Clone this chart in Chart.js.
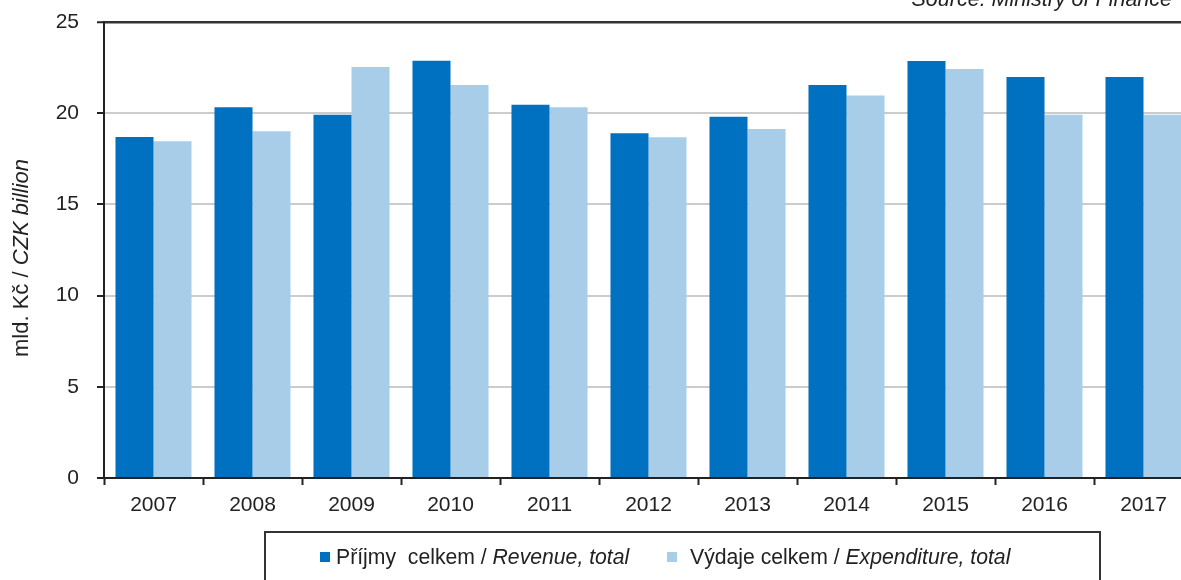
<!DOCTYPE html>
<html>
<head>
<meta charset="utf-8">
<script src="https://cdn.jsdelivr.net/npm/chart.js@4/dist/chart.umd.min.js"></script>
<style>
  html, body { margin: 0; padding: 0; background: #fff; overflow: hidden; }
  #wrap { position: relative; width: 1200px; height: 580px; }
</style>
</head>
<body>
<div id="wrap"><canvas id="budget"></canvas></div>
<script>
// Data
const years = ['2007', '2008', '2009', '2010', '2011', '2012', '2013', '2014', '2015', '2016', '2017'];
const revenue = [18.70, 20.33, 19.91, 22.87, 20.46, 18.90, 19.80, 21.54, 22.86, 21.98, 21.98];
const expenditure = [18.46, 19.01, 22.53, 21.55, 20.33, 18.68, 19.14, 20.97, 22.42, 19.92, 19.92];
const yTicks = [0, 5, 10, 15, 20, 25];

const DARK = '#0070c0';
const LIGHT = '#a7cde8';
const TEXT = '#222';
const FONT = "'Liberation Sans', Arial, sans-serif";

// draw a line of text made of regular / italic pieces
function drawRuns(ctx, runs, x, y, size) {
    let cx = x;
    runs.forEach(r => {
        ctx.font = (r.italic ? 'italic ' : '') + size + 'px ' + FONT;
        ctx.fillText(r.text, cx, y);
        cx += ctx.measureText(r.text).width;
    });
}

function runsWidth(ctx, runs, size) {
    let w = 0;
    runs.forEach(r => {
        ctx.font = (r.italic ? 'italic ' : '') + size + 'px ' + FONT;
        w += ctx.measureText(r.text).width;
    });
    return w;
}

// Axis title, source note and legend box (mixed italic text)
const extras = {
    id: 'extras',
    afterDraw(chart) {
        const ctx = chart.ctx;
        ctx.save();
        ctx.fillStyle = TEXT;
        ctx.textBaseline = 'alphabetic';

        // source note, cut at the top edge
        const src = [{ text: 'Source: Ministry of Finance', italic: true }];
        drawRuns(ctx, src, 1172 - runsWidth(ctx, src, 21.5), 6, 21.5);

        // y axis title
        const title = [{ text: 'mld. Kč / ', italic: false }, { text: 'CZK billion', italic: true }];
        ctx.translate(28, 258);
        ctx.rotate(-Math.PI / 2);
        drawRuns(ctx, title, -runsWidth(ctx, title, 22) / 2, 0, 22);
        ctx.restore();

        // legend
        ctx.save();
        ctx.strokeStyle = '#333';
        ctx.lineWidth = 2;
        ctx.strokeRect(265, 532, 835, 80);
        const ds = chart.data.datasets;
        const items = [
            { x: 320, gap: 16, color: ds[0].backgroundColor, runs: [{ text: 'Příjmy  celkem / ', italic: false }, { text: 'Revenue, total', italic: true }] },
            { x: 667, gap: 23, color: ds[1].backgroundColor, runs: [{ text: 'Výdaje celkem / ', italic: false }, { text: 'Expenditure, total', italic: true }] }
        ];
        items.forEach(it => {
            ctx.fillStyle = it.color;
            ctx.fillRect(it.x, 552, 10, 10);
            ctx.fillStyle = TEXT;
            drawRuns(ctx, it.runs, it.x + it.gap, 564, 21.2);
        });
        ctx.restore();
    }
};

new Chart(document.getElementById('budget'), {
    type: 'bar',
    data: {
        labels: years,
        datasets: [
            { label: 'Příjmy celkem / Revenue, total', data: revenue, backgroundColor: DARK },
            { label: 'Výdaje celkem / Expenditure, total', data: expenditure, backgroundColor: LIGHT }
        ]
    },
    options: {
        responsive: true,
        maintainAspectRatio: false,
        animation: false,
        datasets: {
            bar: { categoryPercentage: 0.768, barPercentage: 1.0, borderWidth: 0 }
        },
        layout: { padding: { top: 22, right: 7, left: 0, bottom: 0 } },
        plugins: {
            legend: { display: false },
            tooltip: { enabled: false }
        },
        scales: {
            x: {
                offset: true,
                grid: { offset: true, drawOnChartArea: false, tickLength: 7, tickColor: '#222', tickWidth: 2 },
                border: { color: '#222', width: 2 },
                ticks: { color: TEXT, font: { family: FONT, size: 21 }, padding: 8, maxRotation: 0 },
                afterFit: s => { s.height = 102; }
            },
            y: {
                min: 0,
                max: 25,
                afterBuildTicks: s => { s.ticks = yTicks.map(v => ({ value: v })); },
                grid: {
                    color: c => c.tick && c.tick.value === 25 ? '#333' : '#cccccc',
                    lineWidth: c => c.tick && c.tick.value === 25 ? 2.5 : 2,
                    tickColor: '#222',
                    tickWidth: 2,
                    tickLength: 7
                },
                border: { color: '#222', width: 2 },
                ticks: { color: TEXT, font: { family: FONT, size: 21 }, padding: 18 },
                afterFit: s => { s.width = 104; s.paddingTop = 0; s.paddingBottom = 0; }
            }
        }
    },
    plugins: [extras]
});
</script>
</body>
</html>
